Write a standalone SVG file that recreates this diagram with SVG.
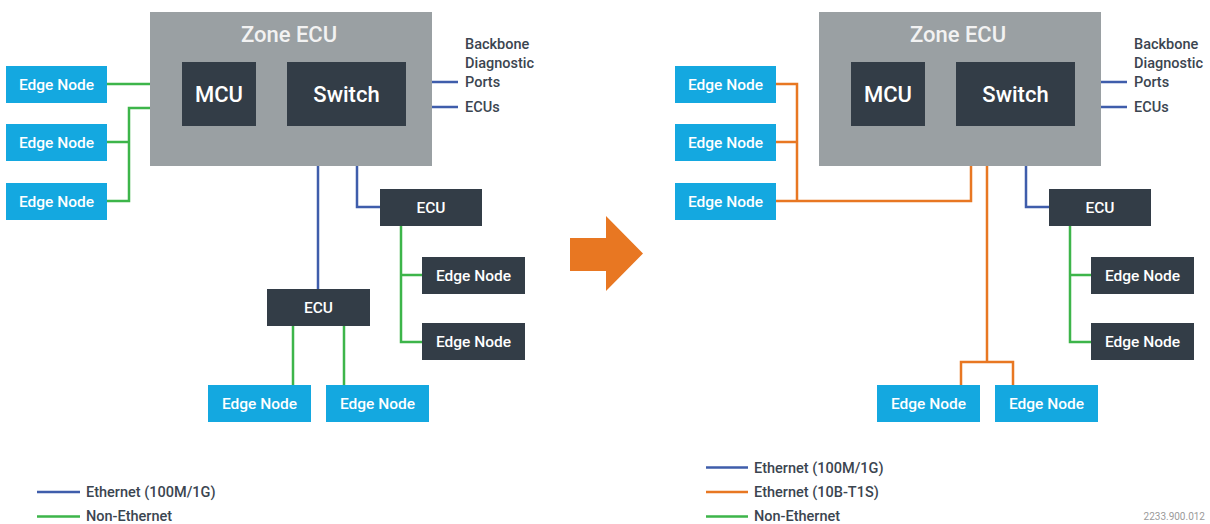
<svg xmlns="http://www.w3.org/2000/svg" width="1210" height="524" viewBox="0 0 1210 524">
<style>
text{font-family:Roboto,"Liberation Sans",sans-serif;font-weight:500}
.zone{fill:#9aa0a3}
.dark{fill:#333d47}
.edge{fill:#14a8e0}
.wt{fill:#ffffff;text-anchor:middle;font-size:15.5px}
.big{fill:#ffffff;text-anchor:middle;font-size:22px}
.title{fill:#f2f2f2;text-anchor:middle;font-size:22px}
.lbl{fill:#3b4550;font-size:14.5px}
.ln{fill:none;stroke-width:2.5}
.b{stroke:#3f5dab}
.g{stroke:#3db54a}
.o{stroke:#e87722}
</style>
<g id="connectors">
<path class="ln g" d="M107,84 H150 M107,142 H129 M107,201 H129 V108 H150"/>
<path class="ln b" d="M406,82 H458 M406,107 H458 M318,126 V289 M357,126 V207 H380"/>
<path class="ln g" d="M401,226 V342 H422 M401,275 H422 M293,326 V385 M344,326 V385"/>
<path class="ln o" d="M776,84 H797 V201 M776,142 H797 M776,201 H971 V126 M987,126 V362 M961,385 V362 H1013 V385"/>
<path class="ln b" d="M1075,82 H1127 M1075,107 H1127 M1026,126 V207 H1049"/>
<path class="ln g" d="M1070,226 V342 H1091 M1070,275 H1091"/>
<path class="ln b" d="M37,492 H80 M706,467.5 H748"/>
<path class="ln g" d="M37,516.5 H80 M706,516.5 H748"/>
<path class="ln o" d="M706,492 H748"/>
</g>
<g id="left-zone"><rect class="zone" x="150" y="12" width="282" height="154"/><text class="title" x="289" y="42">Zone ECU</text></g>
<g id="left-mcu"><rect class="dark" x="182" y="62" width="74" height="64"/><text class="big" x="219" y="102">MCU</text></g>
<g id="left-switch"><rect class="dark" x="287" y="62" width="119" height="64"/><text class="big" x="346.5" y="102">Switch</text></g>
<g id="left-labels"><text class="lbl" x="465" y="49">Backbone</text><text class="lbl" x="465" y="68">Diagnostic</text><text class="lbl" x="465" y="87">Ports</text><text class="lbl" x="465" y="112">ECUs</text></g>
<g id="l-e1"><rect class="edge" x="6" y="66" width="101" height="37"/><text class="wt" x="56.5" y="90">Edge Node</text></g>
<g id="l-e2"><rect class="edge" x="6" y="124" width="101" height="37"/><text class="wt" x="56.5" y="148">Edge Node</text></g>
<g id="l-e3"><rect class="edge" x="6" y="183" width="101" height="37"/><text class="wt" x="56.5" y="207">Edge Node</text></g>
<g id="l-ecu1"><rect class="dark" x="380" y="189" width="102" height="37"/><text class="wt" x="431" y="213">ECU</text></g>
<g id="l-ecu2"><rect class="dark" x="267" y="289" width="103" height="37"/><text class="wt" x="318.5" y="313">ECU</text></g>
<g id="l-d1"><rect class="dark" x="422" y="257" width="103" height="37"/><text class="wt" x="473.5" y="281">Edge Node</text></g>
<g id="l-d2"><rect class="dark" x="422" y="323" width="103" height="37"/><text class="wt" x="473.5" y="347">Edge Node</text></g>
<g id="l-b1"><rect class="edge" x="208" y="385" width="103" height="37"/><text class="wt" x="259.5" y="409">Edge Node</text></g>
<g id="l-b2"><rect class="edge" x="326" y="385" width="103" height="37"/><text class="wt" x="377.5" y="409">Edge Node</text></g>
<g id="arrow"><polygon fill="#e87722" points="570,238 606,238 606,216 643,253.5 606,291 606,271 570,271"/></g>
<g id="right-zone"><rect class="zone" x="819" y="12" width="282" height="154"/><text class="title" x="958" y="42">Zone ECU</text></g>
<g id="right-mcu"><rect class="dark" x="851" y="62" width="74" height="64"/><text class="big" x="888" y="102">MCU</text></g>
<g id="right-switch"><rect class="dark" x="956" y="62" width="119" height="64"/><text class="big" x="1015.5" y="102">Switch</text></g>
<g id="right-labels"><text class="lbl" x="1134" y="49">Backbone</text><text class="lbl" x="1134" y="68">Diagnostic</text><text class="lbl" x="1134" y="87">Ports</text><text class="lbl" x="1134" y="112">ECUs</text></g>
<g id="r-e1"><rect class="edge" x="675" y="66" width="101" height="37"/><text class="wt" x="725.5" y="90">Edge Node</text></g>
<g id="r-e2"><rect class="edge" x="675" y="124" width="101" height="37"/><text class="wt" x="725.5" y="148">Edge Node</text></g>
<g id="r-e3"><rect class="edge" x="675" y="183" width="101" height="37"/><text class="wt" x="725.5" y="207">Edge Node</text></g>
<g id="r-ecu1"><rect class="dark" x="1049" y="189" width="102" height="37"/><text class="wt" x="1100" y="213">ECU</text></g>
<g id="r-d1"><rect class="dark" x="1091" y="257" width="103" height="37"/><text class="wt" x="1142.5" y="281">Edge Node</text></g>
<g id="r-d2"><rect class="dark" x="1091" y="323" width="103" height="37"/><text class="wt" x="1142.5" y="347">Edge Node</text></g>
<g id="r-b1"><rect class="edge" x="877" y="385" width="103" height="37"/><text class="wt" x="928.5" y="409">Edge Node</text></g>
<g id="r-b2"><rect class="edge" x="995" y="385" width="103" height="37"/><text class="wt" x="1046.5" y="409">Edge Node</text></g>
<g id="legend">
<text class="lbl" x="86" y="497">Ethernet (100M/1G)</text>
<text class="lbl" x="86" y="521">Non-Ethernet</text>
<text class="lbl" x="754" y="472.5">Ethernet (100M/1G)</text>
<text class="lbl" x="754" y="497">Ethernet (10B-T1S)</text>
<text class="lbl" x="754" y="521">Non-Ethernet</text>
<text x="1205" y="520" text-anchor="end" style="font-size:10px;font-weight:400;fill:#9a9a9a">2233.900.012</text>
</g>
</svg>
